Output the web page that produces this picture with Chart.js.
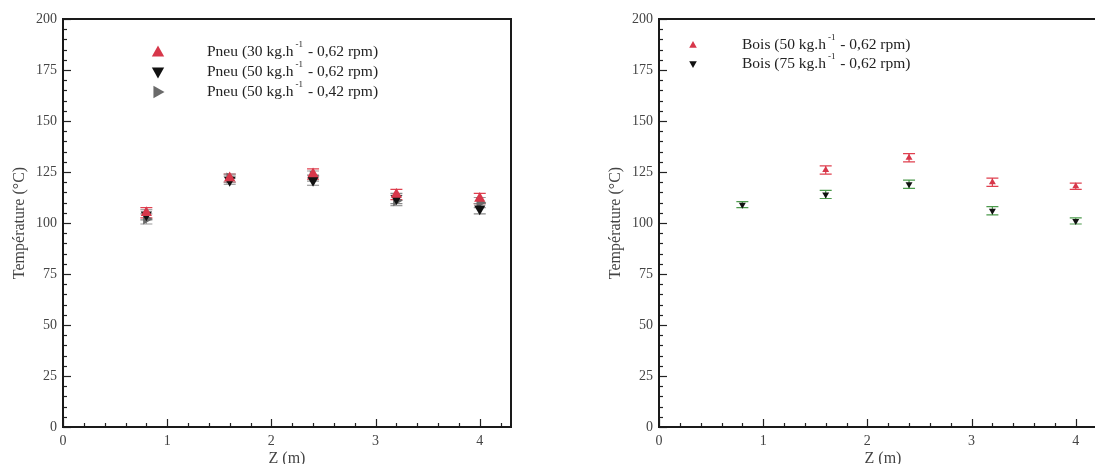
<!DOCTYPE html>
<html>
<head>
<meta charset="utf-8">
<script src="https://cdn.jsdelivr.net/npm/chart.js@4"></script>
<style>
  html, body { margin: 0; padding: 0; background: #fff; overflow: hidden; }
  body { width: 1095px; height: 464px; position: relative; }
  .box { position: absolute; top: 0; width: 540px; height: 464px; }
</style>
</head>
<body>
<div class="box" style="left:0px"><canvas id="pneuChart" width="540" height="464"></canvas></div>
<div class="box" style="left:596px"><canvas id="boisChart" width="540" height="464"></canvas></div>
<script>
// positions along the kiln (m)
const zPos = [0.8, 1.6, 2.4, 3.2, 4.0];

// left chart: tyres
const pneu30_062 = [105, 122, 124, 114, 112];
const pneu50_062 = [104, 121, 121, 112, 107];
const pneu50_042 = [102, 122, 123, 111, 110];
const pneuErr = [2.5, 2, 2.5, 2.5, 2.5];

// right chart: wood
const bois50_062 = [null, 126, 132, 120, 118];
const bois75_062 = [109, 114, 119, 106, 101];
const boisErr = [1.5, 2, 2, 2, 1.5];

const yTicks = [0, 25, 50, 75, 100, 125, 150, 175, 200];
const xTicks = [0, 1, 2, 3, 4];

const serif = "'Liberation Serif', 'DejaVu Serif', serif";

// frame + inward ticks
const framePlugin = {
  id: 'frame',
  afterDraw(chart) {
    const c = chart.ctx, a = chart.chartArea;
    const xs = chart.scales.x, ys = chart.scales.y;
    c.save();
    c.strokeStyle = '#222';
    c.lineWidth = 1.2;
    for (let v = 0; v <= 200; v += 5) {
      const y = Math.round(ys.getPixelForValue(v)) + 0.5;
      const len = v % 25 === 0 ? 8 : 4;
      c.beginPath(); c.moveTo(a.left, y); c.lineTo(a.left + len, y); c.stroke();
    }
    for (let i = 0; i <= 21; i++) {
      const v = i * 0.2;
      const x = Math.round(xs.getPixelForValue(v)) + 0.5;
      const len = i % 5 === 0 ? 8 : 4;
      c.beginPath(); c.moveTo(x, a.bottom); c.lineTo(x, a.bottom - len); c.stroke();
    }
    c.lineWidth = 2;
    c.strokeStyle = '#1a1a1a';
    c.strokeRect(a.left, a.top, a.right - a.left, a.bottom - a.top);
    c.restore();
  }
};

// error bars drawn under the markers
const errorPlugin = {
  id: 'errbars',
  beforeDatasetsDraw(chart) {
    const c = chart.ctx;
    const xs = chart.scales.x, ys = chart.scales.y;
    c.save();
    chart.data.datasets.forEach(ds => {
      if (!ds.err) return;
      c.strokeStyle = ds.errColor;
      c.lineWidth = 1.2;
      ds.data.forEach((p, i) => {
        if (p.y == null) return;
        const x = xs.getPixelForValue(p.x);
        const y1 = ys.getPixelForValue(p.y - ds.err[i]);
        const y2 = ys.getPixelForValue(p.y + ds.err[i]);
        c.beginPath();
        c.moveTo(x, y1); c.lineTo(x, y2);
        c.moveTo(x - 6, y1); c.lineTo(x + 6, y1);
        c.moveTo(x - 6, y2); c.lineTo(x + 6, y2);
        c.stroke();
      });
    });
    c.restore();
  }
};

// legend with superscript, drawn inside the plot
const legendPlugin = {
  id: 'innerLegend',
  afterDraw(chart, args, opts) {
    const c = chart.ctx;
    c.save();
    chart.data.datasets.forEach((ds, i) => {
      const yy = opts.y + i * opts.gap;
      // marker
      c.save();
      c.translate(opts.mx, yy);
      c.rotate(ds.rotation * Math.PI / 180);
      const r = ds.pointRadius;
      c.fillStyle = ds.backgroundColor;
      c.beginPath();
      c.moveTo(0, -r);
      c.lineTo(r * 0.95, r * 0.7);
      c.lineTo(-r * 0.95, r * 0.7);
      c.closePath();
      c.fill();
      c.restore();
      // text
      c.fillStyle = '#222';
      c.textBaseline = 'middle';
      c.font = '15.5px ' + serif;
      let x = opts.tx;
      c.fillText(ds.lab[0], x, yy);
      x += c.measureText(ds.lab[0]).width;
      c.font = '9px ' + serif;
      c.fillText('-1', x + 2, yy - 7);
      x += c.measureText('-1').width + 3;
      c.font = '15.5px ' + serif;
      c.fillText(ds.lab[1], x, yy);
    });
    c.restore();
  }
};

function makeSet(vals, err, color, errColor, rot, r, lab) {
  return {
    data: zPos.map((z, i) => ({ x: z, y: vals[i] })),
    err: err,
    errColor: errColor,
    backgroundColor: color,
    borderColor: color,
    pointStyle: 'triangle',
    rotation: rot,
    pointRadius: r,
    borderWidth: 0,
    showLine: false,
    lab: lab
  };
}

function makeOptions(legendOpts) {
  return {
    responsive: false,
    animation: false,
    layout: { padding: { left: 0, top: 19, right: 29, bottom: 0 } },
    plugins: { legend: { display: false }, tooltip: { enabled: false }, innerLegend: legendOpts },
    scales: {
      x: {
        type: 'linear', min: 0, max: 4.3,
        afterFit(s) { s.height = 37; },
        afterBuildTicks(s) { s.ticks = xTicks.map(v => ({ value: v })); },
        grid: { display: false, drawTicks: false }, border: { display: false },
        ticks: { color: '#444', font: { family: serif, size: 14 }, padding: 6 },
        title: { display: true, text: 'Z (m)', color: '#444', font: { family: serif, size: 16 }, padding: { top: 0, bottom: -4 } }
      },
      y: {
        min: 0, max: 200,
        afterFit(s) { s.width = 63; },
        afterBuildTicks(s) { s.ticks = yTicks.map(v => ({ value: v })); },
        grid: { display: false, drawTicks: false }, border: { display: false },
        ticks: { color: '#444', font: { family: serif, size: 14 }, padding: 6 },
        title: { display: true, text: 'Température (°C)', color: '#444', font: { family: serif, size: 16 }, padding: { top: 10, bottom: 2 } }
      }
    }
  };
}

new Chart(document.getElementById('pneuChart'), {
  type: 'scatter',
  data: {
    datasets: [
      makeSet(pneu30_062, pneuErr, '#d7374a', '#e0404f', 0, 6.5, ['Pneu (30 kg.h', ' - 0,62 rpm)']),
      makeSet(pneu50_062, pneuErr, '#111111', '#888888', 180, 6.5, ['Pneu (50 kg.h', ' - 0,62 rpm)']),
      makeSet(pneu50_042, pneuErr, '#6a6a6a', '#999999', 90, 6.5, ['Pneu (50 kg.h', ' - 0,42 rpm)'])
    ]
  },
  options: makeOptions({ mx: 158, tx: 207, y: 52, gap: 20 }),
  plugins: [errorPlugin, framePlugin, legendPlugin]
});

new Chart(document.getElementById('boisChart'), {
  type: 'scatter',
  data: {
    datasets: [
      makeSet(bois50_062, boisErr, '#d7374a', '#e0404f', 0, 4, ['Bois (50 kg.h', ' - 0,62 rpm)']),
      makeSet(bois75_062, boisErr, '#111111', '#4c9a4c', 180, 4, ['Bois (75 kg.h', ' - 0,62 rpm)'])
    ]
  },
  options: makeOptions({ mx: 97, tx: 146, y: 45, gap: 19 }),
  plugins: [errorPlugin, framePlugin, legendPlugin]
});
</script>
</body>
</html>
